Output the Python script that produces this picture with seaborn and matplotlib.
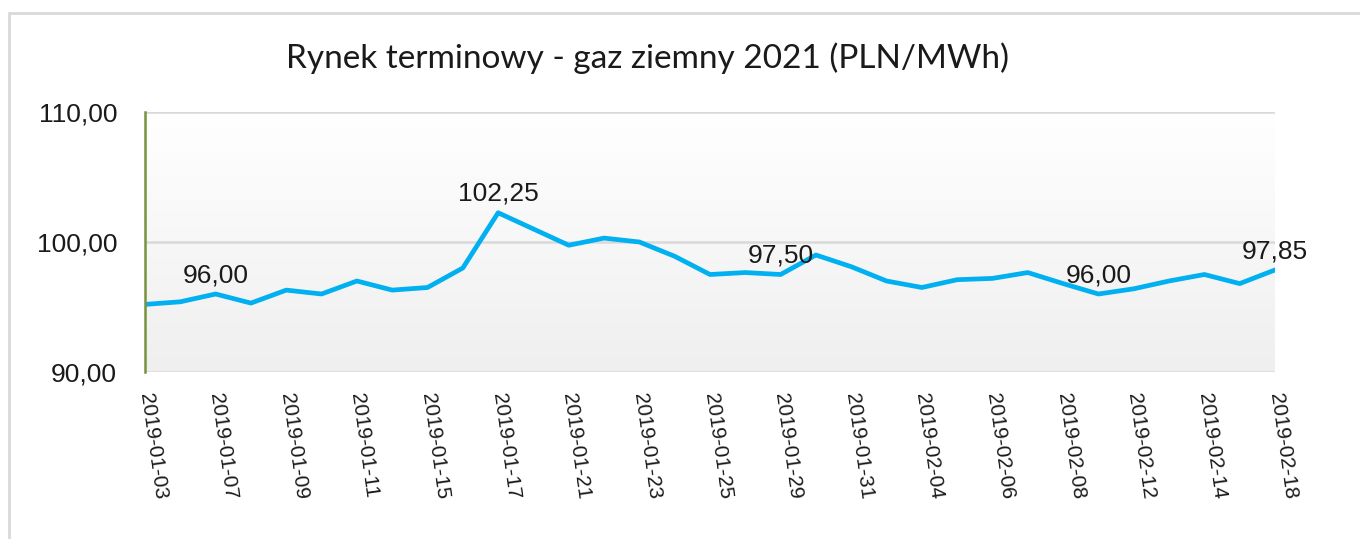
import matplotlib.pyplot as plt
import numpy as np
import pandas as pd
import seaborn as sns
from matplotlib.patches import Rectangle

# dane: notowania dzienne (dni robocze)
dates = [
    "2019-01-03", "2019-01-04", "2019-01-07", "2019-01-08", "2019-01-09",
    "2019-01-10", "2019-01-11", "2019-01-14", "2019-01-15", "2019-01-16",
    "2019-01-17", "2019-01-18", "2019-01-21", "2019-01-22", "2019-01-23",
    "2019-01-24", "2019-01-25", "2019-01-28", "2019-01-29", "2019-01-30",
    "2019-01-31", "2019-02-01", "2019-02-04", "2019-02-05", "2019-02-06",
    "2019-02-07", "2019-02-08", "2019-02-11", "2019-02-12", "2019-02-13",
    "2019-02-14", "2019-02-15", "2019-02-18",
]
prices = [
    95.20, 95.40, 96.00, 95.30, 96.30, 96.00, 97.00, 96.30, 96.50, 98.00,
    102.25, 101.00, 99.75, 100.30, 100.00, 98.90, 97.50, 97.65, 97.50, 99.00,
    98.10, 97.00, 96.50, 97.10, 97.20, 97.65, 96.80, 96.00, 96.40, 97.00,
    97.50, 96.80, 97.85,
]
labelled_dates = ["2019-01-07", "2019-01-17", "2019-01-29", "2019-02-11", "2019-02-18"]
y_ticks = [90, 100, 110]

title = "Rynek terminowy - gaz ziemny 2021 (PLN/MWh)"

df = pd.DataFrame({"data": dates, "cena": prices})
df["pos"] = np.arange(len(df))

sns.set_style("white")
plt.rcParams["font.family"] = ["Liberation Sans", "DejaVu Sans"]

W, H = 1360, 539
fig = plt.figure(figsize=(W / 100, H / 100), dpi=100)
ax = fig.add_axes([145 / W, 1 - 372 / H, (1275 - 145) / W, (372 - 112) / H])

# ramka wykresu
fig.patches.append(Rectangle((9 / W, -0.05), 1.1, 1 - 13 / H + 0.05,
                             transform=fig.transFigure, fill=False,
                             edgecolor="#d9d9d9", linewidth=2.0))

# gradientowe tlo obszaru wykresu
grad = np.linspace(0, 1, 256).reshape(-1, 1)
ax.imshow(grad, extent=[0, 1, 0, 1], transform=ax.transAxes, aspect="auto",
          cmap=sns.blend_palette(["#ffffff", "#efefef"], as_cmap=True),
          vmin=0, vmax=1, origin="upper", zorder=0)

for yv in y_ticks:
    ax.axhline(yv, color="#d9d9d9", linewidth=1.8, zorder=1)

sns.lineplot(data=df, x="pos", y="cena", ax=ax, color="#00b0f0",
             linewidth=3.4, zorder=3)

for _, row in df[df["data"].isin(labelled_dates)].iterrows():
    ax.annotate(f"{row['cena']:.2f}".replace(".", ","), (row["pos"], row["cena"]),
                xytext=(0, 5), textcoords="offset points", ha="center",
                va="bottom", fontsize=19, color="#1a1a1a", annotation_clip=False)

ax.set_xlim(0, len(df) - 1)
ax.set_ylim(90, 110)
ax.set_yticks(y_ticks)
ax.set_yticklabels([f"{v:.2f}".replace(".", ",") for v in y_ticks], fontsize=19,
                   color="#1a1a1a")
ax.set_xticks(df["pos"][::2])
ax.set_xticklabels(df["data"][::2], rotation=-82, rotation_mode="anchor",
                   ha="left", va="center", fontsize=15, color="#1a1a1a")
ax.tick_params(axis="y", length=0, pad=20)
ax.tick_params(axis="x", length=0, pad=15)
ax.set_xlabel("")
ax.set_ylabel("")

for side in ["top", "right", "bottom"]:
    ax.spines[side].set_visible(False)
ax.spines["left"].set_color("#77933c")
ax.spines["left"].set_linewidth(1.8)
ax.spines["left"].set_zorder(4)

fig.text(647 / W, 1 - 58 / H, title, ha="center", va="center", fontsize=24,
         family=["Lato", "DejaVu Sans"], color="#1a1a1a")

fig.savefig("out.png", dpi=100, facecolor="white")
